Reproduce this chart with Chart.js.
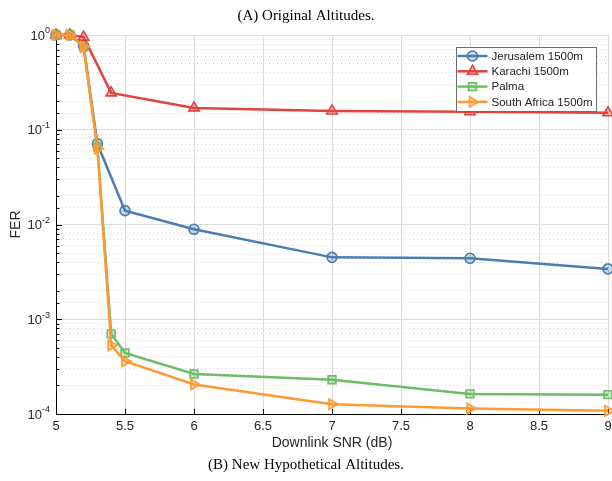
<!DOCTYPE html>
<html>
<head>
<meta charset="utf-8">
<script src="https://cdn.jsdelivr.net/npm/chart.js@4"></script>
<style>
html, body { margin: 0; padding: 0; background: #fff; }
</style>
</head>
<body>
<canvas id="chart" width="612" height="481"></canvas>
<script>
const seriesNames = ["Jerusalem 1500m", "Karachi 1500m", "Palma", "South Africa 1500m"];

const jerusalemSnr = [5, 5.1, 5.2, 5.3, 5.5, 6, 7, 8, 9];
const jerusalemFer = [1, 1, 0.77, 0.071, 0.014, 0.0089, 0.0045, 0.0044, 0.0034];

const karachiSnr = [5, 5.1, 5.2, 5.4, 6, 7, 8, 9];
const karachiFer = [1, 1, 0.95, 0.245, 0.17, 0.158, 0.155, 0.151];

const palmaSnr = [5, 5.1, 5.2, 5.3, 5.4, 5.5, 6, 7, 8, 9];
const palmaFer = [1, 1, 0.75, 0.066, 0.0007, 0.00044, 0.000264, 0.00023, 0.000163, 0.00016];

const southAfricaSnr = [5, 5.1, 5.2, 5.3, 5.4, 5.5, 6, 7, 8, 9];
const southAfricaFer = [1, 1, 0.75, 0.063, 0.00053, 0.00036, 0.000205, 0.000127, 0.000114, 0.000108];

const xTicks = [5, 5.5, 6, 6.5, 7, 7.5, 8, 8.5, 9];
const xTickLabels = ["5", "5.5", "6", "6.5", "7", "7.5", "8", "8.5", "9"];
const yMajor = [1e-4, 1e-3, 1e-2, 1e-1, 1];
const yExponents = ["-4", "-3", "-2", "-1", "0"];

const colors = ["#4a7eb0", "#e4423f", "#6dbd67", "#ff9933"];
const fills = ["rgba(74,126,176,0.3)", "rgba(228,66,63,0.35)", "rgba(109,189,103,0.35)", "rgba(255,153,51,0.35)"];

const sansFont = "'Liberation Sans', Arial, sans-serif";
const serifFont = "'Liberation Serif', 'Times New Roman', serif";

function isMajor(v) {
  const e = Math.log10(v);
  return Math.abs(e - Math.round(e)) < 1e-6;
}

function makeSet(i, xs, ys, style, radius, rotation) {
  return {
    label: seriesNames[i],
    data: xs.map((x, k) => ({ x: x, y: ys[k] })),
    borderColor: colors[i],
    backgroundColor: fills[i],
    borderWidth: 2.5,
    pointStyle: style,
    pointRadius: radius,
    pointRotation: rotation,
    pointBorderColor: colors[i],
    pointBackgroundColor: fills[i],
    pointBorderWidth: 1.6,
    tension: 0,
    clip: false,
    order: 4 - i
  };
}

// inward tick marks, matlab style
const tickMarks = {
  id: "tickMarks",
  beforeDatasetsDraw(chart) {
    const ctx = chart.ctx;
    const xs = chart.scales.x, ys = chart.scales.y;
    const a = chart.chartArea;
    ctx.save();
    ctx.strokeStyle = "#000";
    ctx.lineWidth = 1;
    ctx.beginPath();
    xs.ticks.forEach(t => {
      const px = Math.round(xs.getPixelForValue(t.value)) + 0.5;
      ctx.moveTo(px, a.bottom);
      ctx.lineTo(px, a.bottom - 5);
    });
    ys.ticks.forEach(t => {
      const py = Math.round(ys.getPixelForValue(t.value)) + 0.5;
      const len = isMajor(t.value) ? 6 : 3.5;
      ctx.moveTo(a.left, py);
      ctx.lineTo(a.left + len, py);
    });
    ctx.stroke();
    ctx.restore();
  }
};

// 10^n labels on the log axis, drawn with a raised exponent
const powerLabels = {
  id: "powerLabels",
  afterDraw(chart) {
    const ctx = chart.ctx;
    const ys = chart.scales.y;
    const a = chart.chartArea;
    ctx.save();
    ctx.fillStyle = "#262626";
    ctx.textBaseline = "middle";
    ctx.textAlign = "left";
    yMajor.forEach((m, k) => {
      const py = ys.getPixelForValue(m);
      ctx.font = "9px " + sansFont;
      const ew = ctx.measureText(yExponents[k]).width;
      ctx.font = "13px " + sansFont;
      const bw = ctx.measureText("10").width;
      const right = a.left - 6;
      ctx.fillText("10", right - ew - bw, py + 1);
      ctx.font = "9px " + sansFont;
      ctx.fillText(yExponents[k], right - ew, py - 4);
    });
    ctx.restore();
  }
};

// legend box inside the plot, top right
const boxLegend = {
  id: "boxLegend",
  afterDraw(chart) {
    const ctx = chart.ctx;
    const a = chart.chartArea;
    const x0 = a.right - 152.5, y0 = a.top + 12, w = 140, h = 64;
    ctx.save();
    ctx.fillStyle = "#fff";
    ctx.fillRect(x0, y0, w, h);
    ctx.strokeStyle = "#6e6e6e";
    ctx.lineWidth = 1;
    ctx.strokeRect(Math.round(x0) + 0.5, Math.round(y0) + 0.5, w, h);
    ctx.font = "11.5px " + sansFont;
    ctx.textBaseline = "middle";
    chart.data.datasets.forEach((ds, i) => {
      const y = y0 + 9 + i * 15.3;
      ctx.strokeStyle = ds.borderColor;
      ctx.lineWidth = ds.borderWidth;
      ctx.beginPath();
      ctx.moveTo(x0 + 2, y);
      ctx.lineTo(x0 + 32, y);
      ctx.stroke();
      ctx.fillStyle = ds.pointBackgroundColor;
      ctx.strokeStyle = ds.pointBorderColor;
      ctx.lineWidth = ds.pointBorderWidth;
      Chart.helpers.drawPoint(ctx, {
        pointStyle: ds.pointStyle,
        radius: ds.pointRadius,
        rotation: ds.pointRotation,
        borderWidth: ds.pointBorderWidth
      }, x0 + 17, y);
      ctx.fillStyle = "#222";
      ctx.fillText(ds.label, x0 + 36, y + 0.5);
    });
    ctx.restore();
  }
};

new Chart(document.getElementById("chart"), {
  type: "line",
  data: {
    datasets: [
      makeSet(0, jerusalemSnr, jerusalemFer, "circle", 5, 0),
      makeSet(1, karachiSnr, karachiFer, "triangle", 6, 0),
      makeSet(2, palmaSnr, palmaFer, "rect", 5.5, 0),
      makeSet(3, southAfricaSnr, southAfricaFer, "triangle", 6, 90)
    ]
  },
  options: {
    responsive: false,
    animation: false,
    devicePixelRatio: 1,
    layout: { autoPadding: false, padding: { left: 0, right: 0, top: 0, bottom: 0 } },
    plugins: {
      legend: { display: false },
      tooltip: { enabled: false },
      title: {
        display: true,
        text: "(A) Original Altitudes.",
        color: "#000",
        font: { family: serifFont, size: 15, weight: "normal" },
        padding: { top: 7, bottom: 10 }
      },
      subtitle: {
        display: true,
        position: "bottom",
        text: "(B) New Hypothetical Altitudes.",
        color: "#000",
        font: { family: serifFont, size: 15, weight: "normal" },
        padding: { top: 4, bottom: 7 }
      }
    },
    scales: {
      x: {
        type: "linear",
        min: 5,
        max: 9,
        afterBuildTicks: s => { s.ticks = xTicks.map(v => ({ value: v })); },
        afterFit: s => { s.height = 38; s.paddingLeft = 0; s.paddingRight = 4; },
        ticks: {
          color: "#262626",
          font: { family: sansFont, size: 13 },
          padding: 5,
          maxRotation: 0,
          autoSkip: false,
          callback: (v, i) => xTickLabels[i]
        },
        grid: { color: "#dcdcdc", lineWidth: 1, drawTicks: false },
        border: { color: "#000", width: 1 },
        title: {
          display: true,
          text: "Downlink SNR (dB)",
          color: "#262626",
          font: { family: sansFont, size: 14 },
          padding: { top: 0, bottom: 0 }
        }
      },
      y: {
        type: "logarithmic",
        min: 1e-4,
        max: 1,
        afterFit: s => { s.width = 56; },
        ticks: { display: false, autoSkip: false },
        grid: {
          drawTicks: false,
          lineWidth: 1,
          color: c => (c.tick && !isMajor(c.tick.value)) ? "#d4d4d4" : "#dcdcdc"
        },
        border: {
          color: "#000",
          width: 1,
          dash: c => (c.tick && !isMajor(c.tick.value)) ? [1, 3] : []
        },
        title: {
          display: true,
          text: "FER",
          color: "#262626",
          font: { family: sansFont, size: 14 },
          padding: { top: 8, bottom: 0 }
        }
      }
    }
  },
  plugins: [tickMarks, powerLabels, boxLegend]
});
</script>
</body>
</html>
